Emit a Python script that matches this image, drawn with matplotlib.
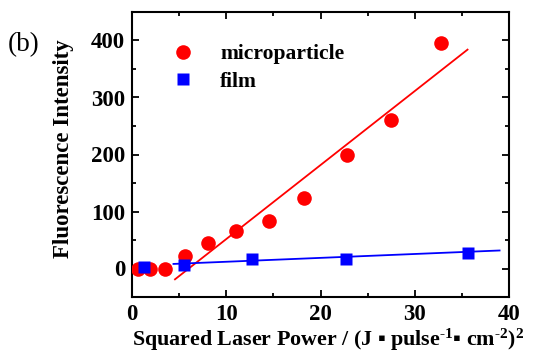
import matplotlib
matplotlib.use("Agg")
import matplotlib.pyplot as plt
from matplotlib.ticker import MultipleLocator

plt.rcParams['font.family'] = ['Liberation Serif', 'DejaVu Serif']
plt.rcParams['font.weight'] = 'bold'
plt.rcParams['mathtext.fontset'] = 'custom'
plt.rcParams['mathtext.rm'] = 'Liberation Serif:bold'
plt.rcParams['mathtext.bf'] = 'Liberation Serif:bold'
plt.rcParams['mathtext.it'] = 'Liberation Serif:bold'

# data
micro_x = [0.64, 1.9, 3.5, 5.6, 8.1, 11.0, 14.5, 18.3, 22.8, 27.5, 32.8]
micro_y = [0, 0, 0, 22, 45, 66, 83, 124, 200, 261, 396]
film_x = [1.27, 5.55, 12.76, 22.7, 35.6]
film_y = [3, 6, 17, 17, 28]
micro_fit_x = [4.56, 35.6]
micro_fit_y = [-19, 384]
film_fit_x = [4.4, 39.0]
film_fit_y = [8, 31.6]

fig = plt.figure(figsize=(5.36, 3.54), dpi=100)
ax = fig.add_axes([132/536, 1-297/354, (509-132)/536, (297-12)/354])

ax.plot(micro_fit_x, micro_fit_y, color='red', lw=1.3, zorder=2)
ax.plot(film_fit_x, film_fit_y, color='blue', lw=1.3, zorder=2)
ax.plot(micro_x, micro_y, 'o', color='red', ms=10.5, mec='none', label='microparticle', zorder=3)
ax.plot(film_x, film_y, 's', color='blue', ms=9, mec='none', label='film', zorder=4)

ax.set_xlim(0, 40)
ax.set_ylim(-50, 450)
ax.xaxis.set_major_locator(MultipleLocator(10))
ax.xaxis.set_minor_locator(MultipleLocator(5))
ax.yaxis.set_major_locator(MultipleLocator(100))
ax.yaxis.set_minor_locator(MultipleLocator(50))
ax.tick_params(which='both', direction='in', top=True, right=True, width=1.3)
ax.tick_params(which='major', length=5, labelsize=16.5, pad=5)
ax.tick_params(which='minor', length=3)
for s in ax.spines.values():
    s.set_linewidth(1.5)
for lab in ax.get_xticklabels() + ax.get_yticklabels():
    lab.set_fontweight('bold')

ax.set_xlabel(r"Squared Laser Power / (J ▪ pulse$^{\text{-1}}$▪ cm$^{\text{-2}}$)$^2$",
              fontsize=15.8, fontweight='bold', labelpad=1)
ax.xaxis.label.set_x(0.52)
ax.set_ylabel("Fluorescence Intensity", fontsize=16.5, fontweight='bold')
ax.yaxis.set_label_coords(-0.155, 0.52)

leg = ax.legend(loc='upper left', bbox_to_anchor=(0.04, 0.955), frameon=False,
                prop={'size': 15.5, 'weight': 'bold'}, handletextpad=1.0, labelspacing=0.35,
                handlelength=1.5)

fig.text(8/536, 1-45/354, "(b)", fontsize=19.5, fontweight='normal', va='center', ha='left')

fig.savefig("out.png", dpi=100)
